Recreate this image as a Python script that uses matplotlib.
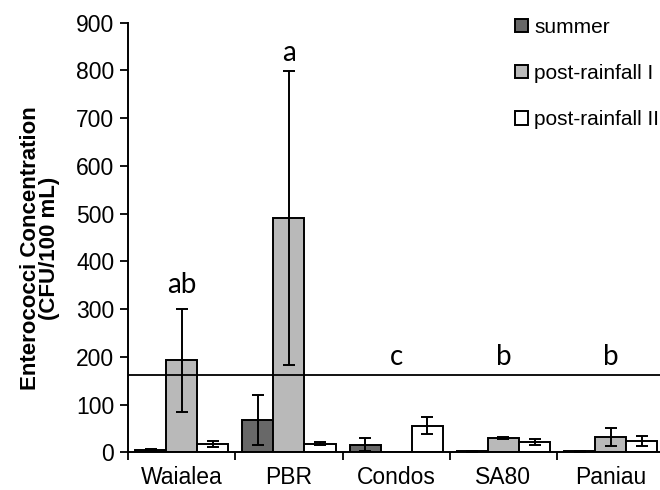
import numpy as np
import matplotlib
matplotlib.use("Agg")
import matplotlib.pyplot as plt

sites = ["Waialea", "PBR", "Condos", "SA80", "Paniau"]
series = ["summer", "post-rainfall I", "post-rainfall II"]
colors = ["#686868", "#b9b9b9", "#ffffff"]

summer = [5, 67, 16, 2, 2]
summer_err = [2, 52, 13, 1, 1]
post1 = [193, 490, 0, 30, 32]
post1_err = [108, 308, 0, 2, 19]
post2 = [17, 18, 56, 22, 24]
post2_err = [6, 3, 17, 6, 11]

letters = ["ab", "a", "c", "b", "b"]
letter_y = [333, 820, 182, 182, 182]
threshold = 161

plt.rcParams['font.family'] = ['Liberation Sans', 'DejaVu Sans']

fig = plt.figure(figsize=(6.6, 4.9), dpi=100)
ax = fig.add_axes([0.194, 0.077, 0.806, 0.877])

x = np.arange(len(sites))
w = 0.29
values = [summer, post1, post2]
errs = [summer_err, post1_err, post2_err]
for i in range(3):
    ax.bar(x + (i - 1) * w, values[i], w, color=colors[i], edgecolor='black',
           linewidth=1.4, label=series[i], zorder=2)
    yerr = np.array(errs[i], dtype=float)
    mask = yerr > 0
    ax.errorbar((x + (i - 1) * w)[mask], np.array(values[i])[mask], yerr=yerr[mask],
                fmt='none', ecolor='black', elinewidth=1.4, capsize=4, capthick=1.4, zorder=3)

ax.axhline(threshold, color='black', linewidth=1.3, zorder=4)

for xi, t, ty in zip(x, letters, letter_y):
    ax.text(xi, ty, t, ha='center', va='baseline', fontsize=20, family='Lato')

ax.set_xlim(-0.5, 4.46)
ax.set_ylim(0, 900)
ax.set_yticks(range(0, 901, 100))
ax.set_xticks(x)
ax.set_xticklabels(sites)
ax.set_xticks(np.arange(-0.5, 4.0, 1.0), minor=True)
ax.tick_params(axis='x', which='major', length=0, labelsize=16.5, pad=10)
ax.tick_params(axis='x', which='minor', length=6, width=1.3, direction='out')
ax.tick_params(axis='y', length=6, width=1.3, direction='out', labelsize=16.5, pad=4)

ax.spines['top'].set_visible(False)
ax.spines['right'].set_visible(False)
ax.spines['left'].set_linewidth(1.4)
ax.spines['bottom'].set_linewidth(1.4)

ax.set_ylabel("Enterococci Concentration\n(CFU/100 mL)", fontsize=16,
              fontweight='bold', linespacing=0.85)
ax.yaxis.set_label_coords(-0.128, 0.474)

fig.legend(loc='upper left', bbox_to_anchor=(0.768, 0.98), frameon=False,
           fontsize=15, handlelength=0.6, handleheight=0.6, handletextpad=0.3,
           labelspacing=1.3, borderaxespad=0)

fig.savefig("out.png", dpi=100)
